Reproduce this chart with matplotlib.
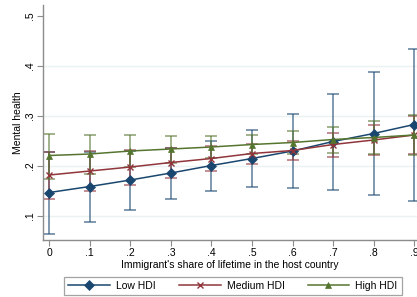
import matplotlib
matplotlib.use("Agg")
import matplotlib.pyplot as plt
import numpy as np

plt.rcParams['font.family'] = ['Liberation Sans', 'DejaVu Sans']

x = [0, 0.1, 0.2, 0.3, 0.4, 0.5, 0.6, 0.7, 0.8, 0.9]
xticklabels = ["0", ".1", ".2", ".3", ".4", ".5", ".6", ".7", ".8", ".9"]
yticks = [0.1, 0.2, 0.3, 0.4, 0.5]
yticklabels = [".1", ".2", ".3", ".4", ".5"]

low = [0.147, 0.159, 0.172, 0.186, 0.201, 0.215, 0.230, 0.249, 0.265, 0.283]
low_lo = [0.065, 0.089, 0.113, 0.135, 0.151, 0.159, 0.157, 0.152, 0.142, 0.131]
low_hi = [0.229, 0.229, 0.231, 0.236, 0.250, 0.272, 0.305, 0.344, 0.388, 0.435]

med = [0.182, 0.190, 0.198, 0.207, 0.215, 0.225, 0.231, 0.243, 0.252, 0.262]
med_lo = [0.135, 0.150, 0.163, 0.177, 0.190, 0.204, 0.212, 0.219, 0.222, 0.224]
med_hi = [0.229, 0.230, 0.233, 0.237, 0.240, 0.245, 0.251, 0.266, 0.282, 0.300]

high = [0.221, 0.224, 0.230, 0.234, 0.238, 0.243, 0.247, 0.253, 0.257, 0.262]
high_lo = [0.175, 0.185, 0.198, 0.207, 0.216, 0.224, 0.224, 0.227, 0.225, 0.222]
high_hi = [0.265, 0.263, 0.262, 0.261, 0.260, 0.262, 0.271, 0.279, 0.290, 0.302]

names = ["Low HDI", "Medium HDI", "High HDI"]
colors = ["#1A476F", "#90353B", "#55752F"]
markers = ["D", "x", "^"]
msizes = [5, 4, 5]

fig = plt.figure(figsize=(4.17, 2.97), dpi=100)
ax = fig.add_axes([43/417, (297-240)/297, (417-43)/417, (240-5)/297])

series = [(low, low_lo, low_hi), (med, med_lo, med_hi), (high, high_lo, high_hi)]
handles = []
for (m, lo, hi), name, c, mk, ms in zip(series, names, colors, markers, msizes):
    m = np.array(m); lo = np.array(lo); hi = np.array(hi)
    ax.errorbar(x, m, yerr=[m - lo, hi - m], fmt='none', ecolor=c, elinewidth=1.1,
                capsize=4, capthick=1.1, alpha=0.7, zorder=2)
    h, = ax.plot(x, m, color=c, lw=1.1, marker=mk, ms=ms, mew=1.0 if mk == 'x' else 0.5,
                 mec=c, mfc=c, zorder=3, label=name)
    handles.append(h)

ax.set_xlim(-0.0156, 0.907)
ax.set_ylim(0.052, 0.522)
ax.set_xticks(x)
ax.set_xticklabels(xticklabels)
ax.set_yticks(yticks)
ax.set_yticklabels(yticklabels, rotation=90, va='center')
for gy in [0.1, 0.2, 0.3, 0.4]:
    ax.axhline(gy, color="#EAF2F3", lw=1, zorder=0)

for s in ['top', 'right']:
    ax.spines[s].set_visible(False)
for s in ['left', 'bottom']:
    ax.spines[s].set_color('#8c8c8c')
    ax.spines[s].set_linewidth(1.0)
ax.tick_params(axis='both', colors='#8c8c8c', labelcolor='black', length=4, width=0.8, labelsize=7.5, pad=2)
ax.set_xlabel("Immigrant's share of lifetime in the host country", fontsize=7.5, labelpad=1)
ax.set_ylabel("Mental health", fontsize=7.5, labelpad=1)

leg = fig.legend(handles=handles, labels=names, loc='center', bbox_to_anchor=(233/417, 1 - 286/297),
                 ncol=3, fontsize=7.5, frameon=True, fancybox=False, edgecolor='#8c8c8c',
                 handlelength=4.0, numpoints=1, columnspacing=2.2, borderpad=0.4, handletextpad=0.6)
leg.get_frame().set_linewidth(0.9)

fig.savefig("out.png", dpi=100)
